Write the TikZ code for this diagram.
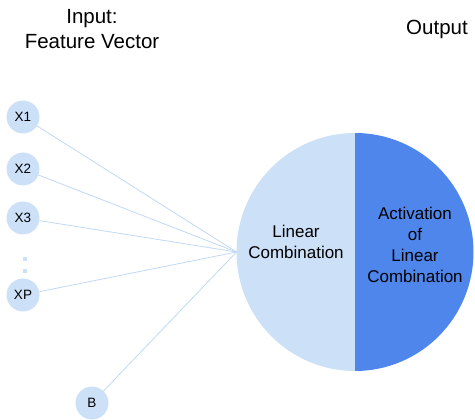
\documentclass[tikz,border=0pt]{standalone}
\usepackage{fontspec}
\setmainfont{Liberation Sans}
\definecolor{lightb}{HTML}{CCE0F8}
\definecolor{darkb}{HTML}{4F86EC}
\definecolor{lineb}{HTML}{C2D8F4}
\begin{document}
\begin{tikzpicture}[x=1pt,y=-1pt,
  inp/.style={circle,fill=lightb,minimum size=33pt,inner sep=0pt,font=\fontsize{13.5}{13.5}\selectfont},
  conn/.style={draw=lineb,line width=0.8pt},
  title/.style={align=center,font=\fontsize{20.5}{25}\selectfont},
  lab/.style={align=center,font=\fontsize{17}{21}\selectfont}]
\useasboundingbox (0,0) rectangle (475,420);
\node[title] (tin) at (92,29) {Input:\\Feature Vector};
\node[title] (tout) at (437,29) {Output};
\node[inp] (x1) at (23,117) {X1};
\node[inp] (x2) at (23,169) {X2};
\node[inp] (x3) at (23,218) {X3};
\node[inp] (xp) at (23,295) {XP};
\node[inp] (b) at (92,403) {B};
\foreach \yy in {259,271,283} \fill[lightb] (23,\yy-1.8) rectangle (27,\yy+1.8);
\coordinate (c) at (355,252);
\fill[lightb] (355,371) arc (90:270:118.5 and 119) -- cycle;
\fill[darkb] (355,371) arc (90:-90:118.5 and 119) -- cycle;
\coordinate (in) at (236.5,252);
\foreach \n in {x1,x2,x3,xp,b} \draw[conn] (\n) -- (in);
\node[lab] (lin) at (296,242) {Linear\\Combination};
\node[lab] (act) at (415,245) {Activation\\of\\Linear\\Combination};
\end{tikzpicture}
\end{document}
